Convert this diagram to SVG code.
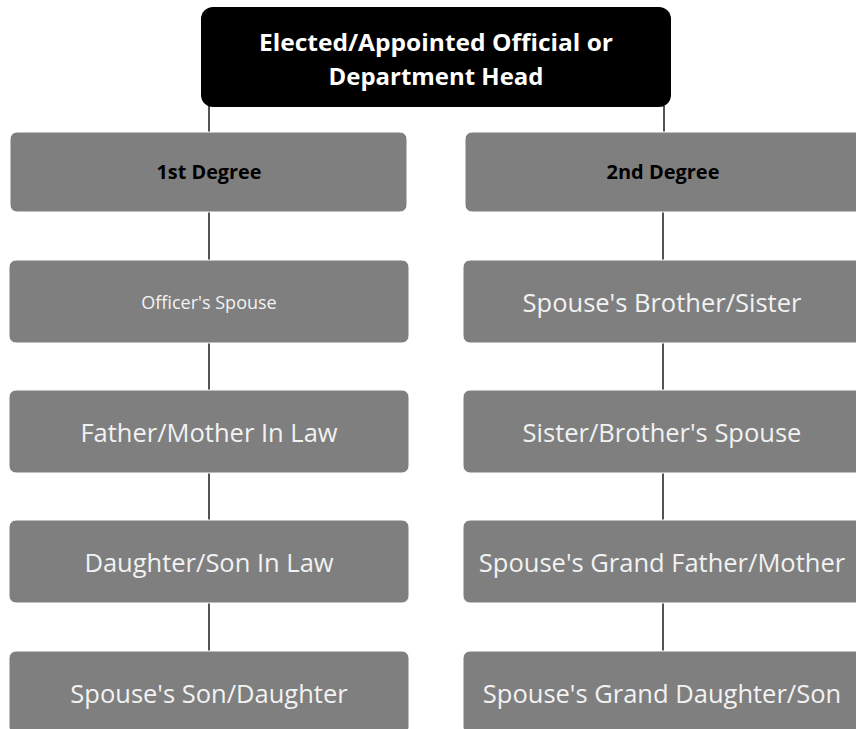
<svg xmlns="http://www.w3.org/2000/svg" width="856" height="729" viewBox="0 0 856 729">
<style>
.box{fill:#7f7f7f;stroke:#ffffff;stroke-width:1}
.head{fill:#000000}
.ht{font-family:"Open Sans","Liberation Sans",sans-serif;font-weight:bold;font-size:24px;fill:#ffffff;text-anchor:middle;dominant-baseline:central}
.deg{font-family:"Open Sans","Liberation Sans",sans-serif;font-weight:bold;font-size:19px;fill:#000000;text-anchor:middle;dominant-baseline:central}
.t{font-family:"Open Sans","Liberation Sans",sans-serif;font-size:25.5px;fill:#f2f2f2;text-anchor:middle;dominant-baseline:central}
.ts{font-family:"Open Sans","Liberation Sans",sans-serif;font-size:18px;fill:#f2f2f2;text-anchor:middle;dominant-baseline:central}
.c{stroke:#1a1a1a;stroke-width:1.5;fill:none}
</style>
<rect width="856" height="729" fill="#ffffff"/>
<g id="connectors">
<line class="c" x1="209" y1="106" x2="209" y2="132"/>
<line class="c" x1="664" y1="106" x2="664" y2="132"/>
<line class="c" x1="209" y1="212" x2="209" y2="260"/>
<line class="c" x1="209" y1="343" x2="209" y2="390"/>
<line class="c" x1="209" y1="473" x2="209" y2="520"/>
<line class="c" x1="209" y1="603" x2="209" y2="651"/>
<line class="c" x1="663" y1="212" x2="663" y2="260"/>
<line class="c" x1="663" y1="343" x2="663" y2="390"/>
<line class="c" x1="663" y1="473" x2="663" y2="520"/>
<line class="c" x1="663" y1="603" x2="663" y2="651"/>
</g>
<g id="head">
<rect class="head" x="201" y="7" width="470" height="100" rx="12"/>
<text class="ht" x="436" y="41" textLength="354" lengthAdjust="spacingAndGlyphs">Elected/Appointed Official or</text>
<text class="ht" x="436" y="75" textLength="215" lengthAdjust="spacingAndGlyphs">Department Head</text>
</g>
<g id="deg1">
<rect class="box" x="10" y="132" width="397" height="80" rx="7"/>
<text class="deg" x="209" y="172" textLength="105" lengthAdjust="spacingAndGlyphs">1st Degree</text>
</g>
<g id="deg2">
<rect class="box" x="465" y="132" width="400" height="80" rx="7"/>
<text class="deg" x="663" y="172" textLength="113" lengthAdjust="spacingAndGlyphs">2nd Degree</text>
</g>
<g id="l1">
<rect class="box" x="9" y="260" width="400" height="83" rx="7"/>
<text class="ts" x="209" y="302">Officer's Spouse</text>
</g>
<g id="l2">
<rect class="box" x="9" y="390" width="400" height="83" rx="7"/>
<text class="t" x="209" y="432">Father/Mother In Law</text>
</g>
<g id="l3">
<rect class="box" x="9" y="520" width="400" height="83" rx="7"/>
<text class="t" x="209" y="562">Daughter/Son In Law</text>
</g>
<g id="l4">
<rect class="box" x="9" y="651" width="400" height="83" rx="7"/>
<text class="t" x="209" y="693">Spouse's Son/Daughter</text>
</g>
<g id="r1">
<rect class="box" x="463" y="260" width="400" height="83" rx="7"/>
<text class="t" x="662" y="302">Spouse's Brother/Sister</text>
</g>
<g id="r2">
<rect class="box" x="463" y="390" width="400" height="83" rx="7"/>
<text class="t" x="662" y="432">Sister/Brother's Spouse</text>
</g>
<g id="r3">
<rect class="box" x="463" y="520" width="400" height="83" rx="7"/>
<text class="t" x="662" y="562">Spouse's Grand Father/Mother</text>
</g>
<g id="r4">
<rect class="box" x="463" y="651" width="400" height="83" rx="7"/>
<text class="t" x="662" y="693">Spouse's Grand Daughter/Son</text>
</g>
</svg>
